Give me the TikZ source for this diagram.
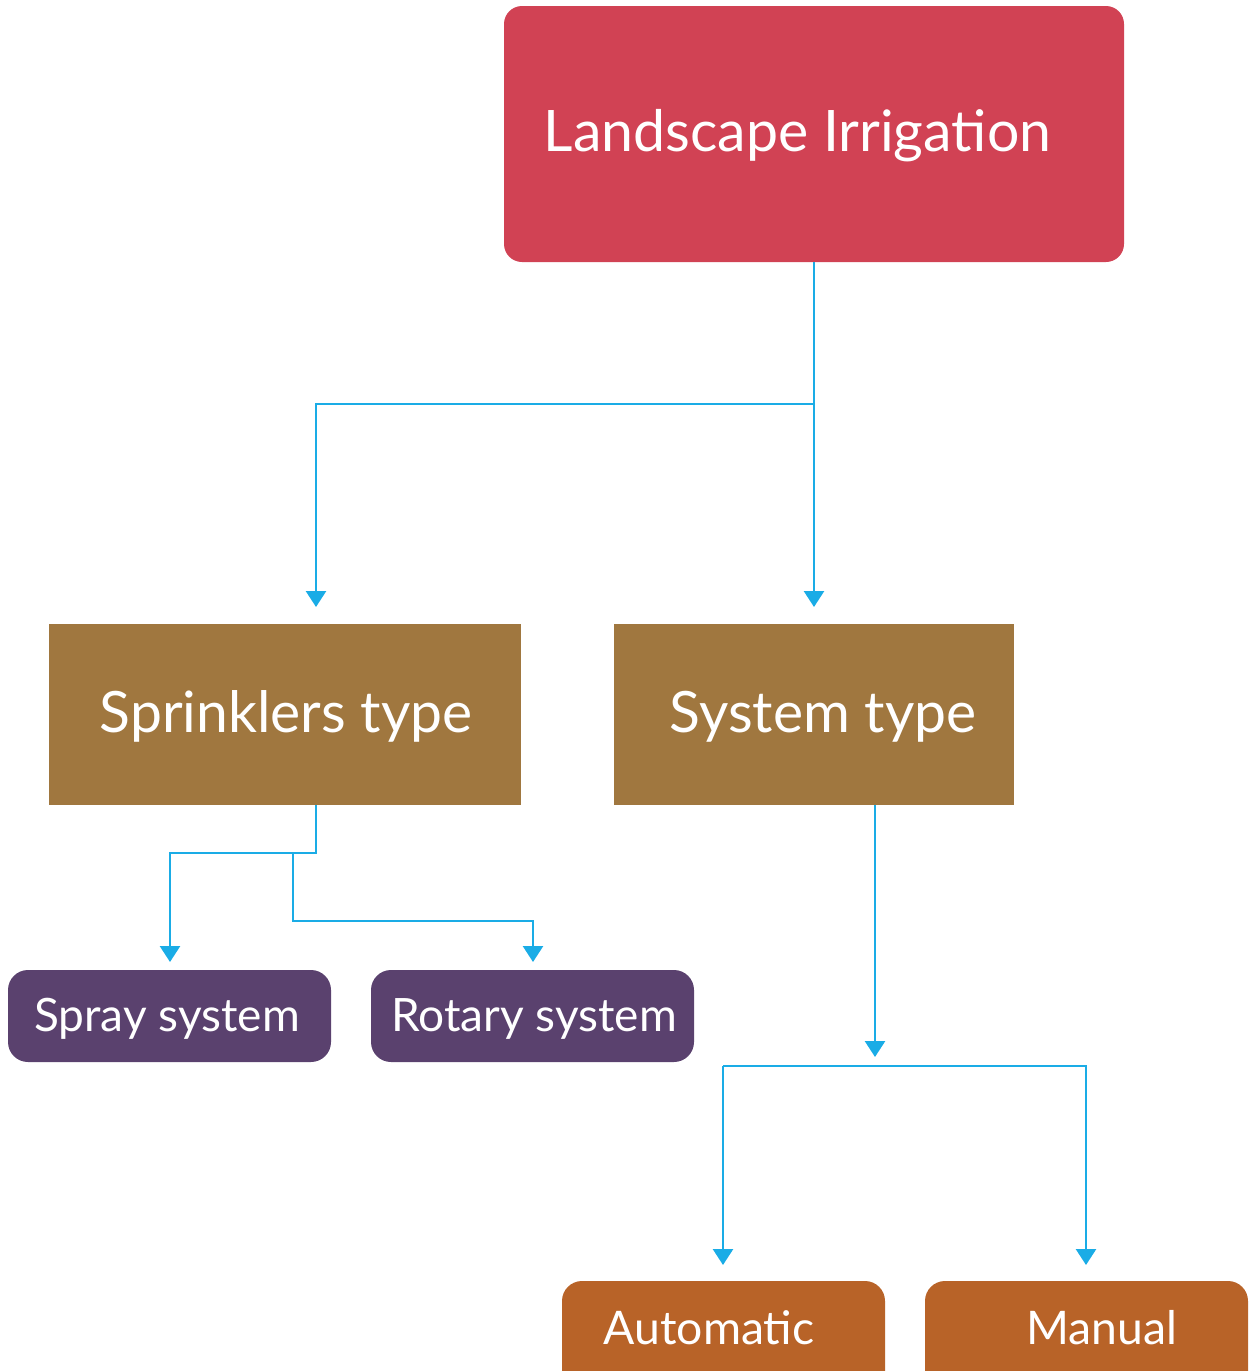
\documentclass[tikz,border=0pt]{standalone}
\usepackage{fontspec}
\setmainfont{Lato}
\usetikzlibrary{arrows.meta}
\definecolor{cRed}{HTML}{D14254}
\definecolor{cBrown}{HTML}{A0773F}
\definecolor{cPurple}{HTML}{5A416E}
\definecolor{cOrange}{HTML}{B86328}
\definecolor{cLine}{HTML}{1AACE6}
\begin{document}
\begin{tikzpicture}[x=1pt,y=-1pt,
  box/.style={draw=none,minimum width=#1,inner sep=0pt},
  lbl/.style={text=white,anchor=base,inner sep=0pt},
  conn/.style={draw=cLine,line width=2.7pt},
  arr/.style={conn,-{Triangle[width=20pt,length=16pt]}}]
\useasboundingbox (0,0) rectangle (1248,1371);
\clip (0,0) rectangle (1248,1371);
% boxes
\node[box=620pt,fill=cRed,rounded corners=18pt,minimum height=256pt] (li) at (814,134) {};
\node[box=472pt,fill=cBrown,minimum height=181pt] (sp) at (285,714.5) {};
\node[box=400pt,fill=cBrown,minimum height=181pt] (st) at (814,714.5) {};
\node[box=323pt,fill=cPurple,rounded corners=20pt,minimum height=92pt] (ss) at (169.5,1016) {};
\node[box=323pt,fill=cPurple,rounded corners=20pt,minimum height=92pt] (rs) at (532.5,1016) {};
\node[box=323pt,fill=cOrange,rounded corners=20pt,minimum height=120pt] (au) at (723.5,1341) {};
\node[box=323pt,fill=cOrange,rounded corners=20pt,minimum height=120pt] (ma) at (1086.5,1341) {};
% labels
\node[lbl,font=\fontsize{57.2}{62}\selectfont] (tli) at (797.5,151) {Landscape Irrigation};
\node[lbl,font=\fontsize{57}{62}\selectfont] (tsp) at (286,732) {Sprinklers type};
\node[lbl,font=\fontsize{57}{62}\selectfont] (tst) at (823,732) {System type};
\node[lbl,font=\fontsize{46}{50}\selectfont] (tss) at (167,1031) {Spray system};
\node[lbl,font=\fontsize{46}{50}\selectfont] (trs) at (534,1031) {Rotary system};
\node[lbl,font=\fontsize{46.3}{50}\selectfont] (tau) at (709,1344) {Automatic};
\node[lbl,font=\fontsize{46.3}{50}\selectfont] (tma) at (1101.5,1344) {Manual};
% connectors
\coordinate (j1) at (814,404);
\draw[arr] (li.south) -- (814,607);
\draw[arr] (j1) -- (316,404) -- (316,607);
\coordinate (j2) at (316,853);
\coordinate (j3) at (293,853);
\draw[arr] (sp.south -| j2) -- (j2) -- (170,853) -- (170,962);
\draw[arr] (j3) -- (293,921) -- (533,921) -- (533,962);
\coordinate (e1) at (875,1057);
\draw[arr] (st.south -| e1) -- (e1);
\coordinate (h1) at (723,1066);
\coordinate (h2) at (1086,1066);
\draw[arr] (h1) -- (723,1265);
\draw[arr] (h1) -- (h2) -- (1086,1265);
\end{tikzpicture}
\end{document}
